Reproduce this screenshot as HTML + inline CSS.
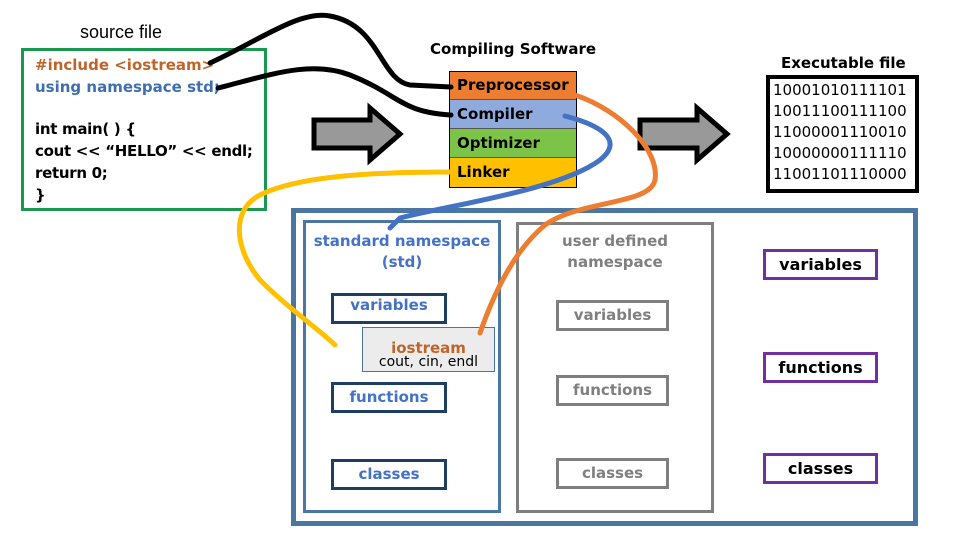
<!DOCTYPE html>
<html><head><meta charset="utf-8"><style>
body{margin:0;width:960px;height:540px;background:#fff;position:relative;overflow:hidden;font-family:"DejaVu Sans","Liberation Sans",sans-serif;font-weight:bold}
.a{position:absolute;box-sizing:border-box}
.t{position:absolute;white-space:nowrap}
.ib{position:absolute;box-sizing:border-box;text-align:center;font-size:15px;border:3px solid}
</style></head><body>
<div class="t" style="left:80px;top:22px;font-size:18px;font-weight:normal;font-family:'Liberation Sans',sans-serif">source file</div>
<div class="a" style="left:21px;top:48px;width:246px;height:163px;border:3px solid #1a9850"></div>
<div class="t" style="left:35px;top:54px;font-size:15px;line-height:22px;color:#c0652a">#include &lt;iostream&gt;</div>
<div class="t" style="left:35px;top:76px;font-size:15px;line-height:22px;color:#3f6fb0">using namespace std;</div>
<div class="t" style="left:35px;top:118px;font-size:15px;line-height:22px;letter-spacing:-0.3px">int main( ) {<br>cout &lt;&lt; “HELLO” &lt;&lt; endl;<br>return 0;<br>}</div>

<div class="t" style="left:430px;top:40px;font-size:15px">Compiling Software</div>
<div class="a" style="left:449px;top:71px;width:128px;height:117px;border:2px solid #000"></div>
<div class="a" style="left:450px;top:72px;width:126px;height:28px;background:#ED7D31;border-bottom:1px solid #555"></div>
<div class="a" style="left:450px;top:100px;width:126px;height:29px;background:#8FAADC;border-bottom:1px solid #555"></div>
<div class="a" style="left:450px;top:129px;width:126px;height:29px;background:#7CC447;border-bottom:1px solid #555"></div>
<div class="a" style="left:450px;top:158px;width:126px;height:29px;background:#FFC000"></div>
<div class="t" style="left:457px;top:76px;font-size:15px">Preprocessor</div>
<div class="t" style="left:457px;top:105px;font-size:15px">Compiler</div>
<div class="t" style="left:457px;top:134px;font-size:15px">Optimizer</div>
<div class="t" style="left:457px;top:163px;font-size:15px">Linker</div>

<div class="t" style="left:781px;top:54px;font-size:15px">Executable file</div>
<div class="a" style="left:766px;top:75px;width:153px;height:118px;border:4px solid #000"></div>
<div class="t" style="left:773px;top:80px;font-size:15px;line-height:21px;font-weight:normal">10001010111101<br>10011100111100<br>11000001110010<br>10000000111110<br>11001101110000</div>

<svg class="a" style="left:0;top:0" width="960" height="540">
<polygon points="314,120 370,120 370,108 400,134 370,160 370,148 314,148" fill="#999" stroke="#000" stroke-width="5"/>
<polygon points="640,120 697,120 697,108 727,134 697,160 697,148 640,148" fill="#999" stroke="#000" stroke-width="5"/>
</svg>

<div class="a" style="left:291px;top:208px;width:627px;height:318px;border:5px solid #4a76a0"></div>
<div class="a" style="left:303px;top:220px;width:198px;height:293px;border:3px solid #4a76a0"></div>
<div class="a" style="left:516px;top:222px;width:198px;height:291px;border:3px solid #7f7f7f"></div>
<div class="t" style="left:303px;top:231px;width:198px;text-align:center;font-size:15px;color:#4472c4;line-height:21px">standard namespace<br>(std)</div>
<div class="t" style="left:516px;top:231px;width:198px;text-align:center;font-size:15px;color:#7f7f7f;line-height:21px">user defined<br>namespace</div>
<div class="ib" style="left:331px;top:293px;width:116px;height:31px;border-color:#1f3e64;color:#4472c4">variables</div>
<div class="ib" style="left:331px;top:382px;width:116px;height:31px;border-color:#1f3e64;color:#4472c4;line-height:25px">functions</div>
<div class="ib" style="left:331px;top:459px;width:116px;height:31px;border-color:#1f3e64;color:#4472c4;line-height:25px">classes</div>
<div class="a" style="left:362px;top:327px;width:133px;height:45px;background:#ececec;border:1px solid #4a76a0"></div>
<div class="t" style="left:362px;top:339px;width:133px;text-align:center;font-size:15px;color:#c0652a">iostream</div>
<div class="t" style="left:362px;top:354px;width:133px;text-align:center;font-size:14px;font-weight:normal">cout, cin, endl</div>
<div class="ib" style="left:556px;top:300px;width:113px;height:31px;border-color:#7f7f7f;color:#7f7f7f;line-height:25px">variables</div>
<div class="ib" style="left:556px;top:375px;width:113px;height:31px;border-color:#7f7f7f;color:#7f7f7f;line-height:25px">functions</div>
<div class="ib" style="left:556px;top:458px;width:113px;height:31px;border-color:#7f7f7f;color:#7f7f7f;line-height:25px">classes</div>
<div class="ib" style="left:763px;top:249px;width:115px;height:31px;border-color:#7030a0;line-height:25px;font-size:16px">variables</div>
<div class="ib" style="left:763px;top:352px;width:115px;height:31px;border-color:#7030a0;line-height:25px;font-size:16px">functions</div>
<div class="ib" style="left:763px;top:453px;width:115px;height:31px;border-color:#7030a0;line-height:25px;font-size:16px">classes</div>

<svg class="a" style="left:0;top:0" width="960" height="540" fill="none" stroke-width="5" stroke-linecap="round">
<path d="M210,63 C260,40 300,10 330,16 C380,25 380,80 410,85 L451,87" stroke="#000"/>
<path d="M218,88 C270,75 310,60 350,75 C400,95 400,112 451,115" stroke="#000"/>
<path d="M451,172 C380,172 300,175 260,195 C230,210 235,250 260,280 C290,310 320,330 335,345" stroke="#FFC000"/>
<path d="M565,116 C600,125 625,140 600,160 C560,190 450,205 400,218 L390,228" stroke="#4472c4"/>
<path d="M575,95 C620,110 660,150 655,180 C650,205 580,200 545,225 C515,250 495,290 480,333" stroke="#ED7D31"/>
</svg>
</body></html>
